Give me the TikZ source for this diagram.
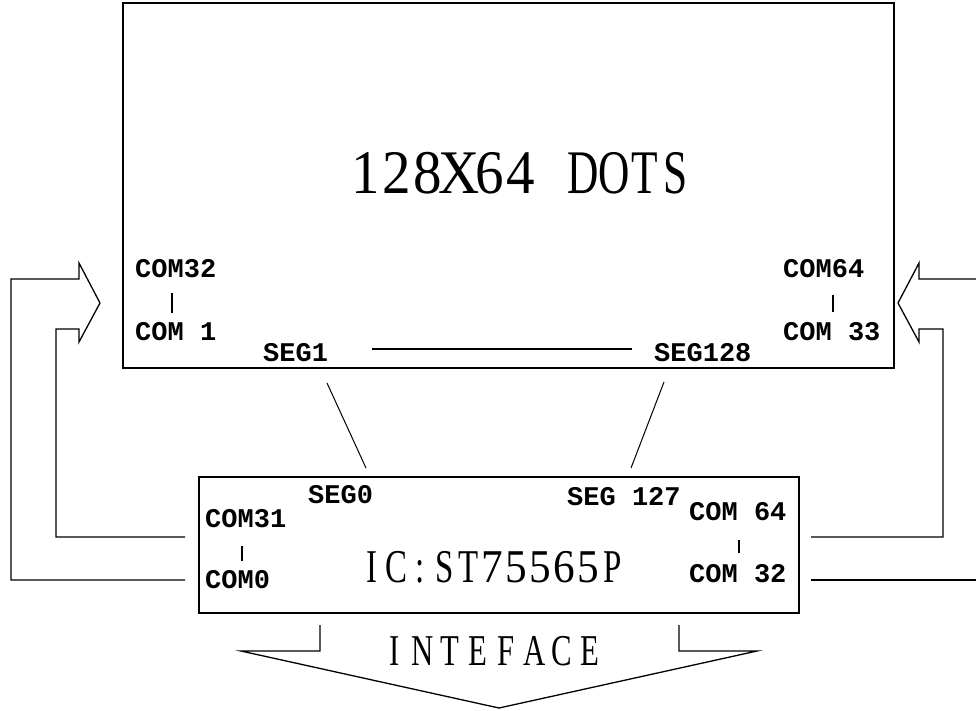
\documentclass[tikz,border=0pt]{standalone}
\usepackage{fontspec}
\newfontfamily\serdig[FakeStretch=0.92]{Liberation Serif}
\newfontfamily\serlet[FakeStretch=0.7]{Liberation Serif}
\newfontfamily\lblfont{Liberation Mono}
\newlength\cellw
\newcommand\cc[1]{\makebox[\cellw][c]{\serlet #1}}
\newcommand\cd[1]{\makebox[\cellw][c]{\serdig #1}}
\begin{document}
\begin{tikzpicture}[x=1pt,y=-1pt,
  box/.style={draw, line width=1.8pt, inner sep=0pt, outer sep=0pt, anchor=north west},
  lbl/.style={anchor=base west, inner sep=0pt, font=\lblfont\bfseries\fontsize{27}{27}\selectfont},
  title/.style={anchor=base west, inner sep=0pt},
  conn/.style={line width=1.3pt},
  thin/.style={line width=1pt},
  bar/.style={line width=1.3pt}]
\useasboundingbox (0,0) rectangle (976,710);
% boxes
\node[box, minimum width=771pt, minimum height=365pt] (lcd) at (123,3) {};
\node[box, minimum width=600pt, minimum height=136pt] (ic) at (199,477) {};
% main texts
\node[title, font=\fontsize{62}{62}\selectfont] (dots) at (350,193)
  {\setlength\cellw{31pt}\cd{1}\cd{2}\cd{8}\cd{X}\cd{6}\cd{4}\cc{}\cc{D}\cc{O}\cc{T}\cc{S}};
\node[title, font=\fontsize{47}{47}\selectfont] (icname) at (360,582)
  {\setlength\cellw{24pt}\cc{I}\cc{C}\cc{:}\cc{S}\cc{T}\cd{7}\cd{5}\cd{5}\cd{6}\cd{5}\cc{P}};
\node[title, font=\fontsize{44}{44}\selectfont] (intf) at (380,665)
  {\setlength\cellw{28pt}\cc{I}\cc{N}\cc{T}\cc{E}\cc{F}\cc{A}\cc{C}\cc{E}};
% LCD labels
\node[lbl] (c32) at (135,277) {COM32};
\node[lbl] (c1) at (135,340) {COM 1};
\node[lbl] (c64) at (783,277) {COM64};
\node[lbl] (c33) at (783,340) {COM 33};
\node[lbl] (s1) at (263,361) {SEG1};
\node[lbl] (s128) at (654,361) {SEG128};
\draw[bar] (172,293) -- (172,313);
\draw[bar] (833,295) -- (833,312);
\coordinate (sl) at (372,349);
\coordinate (sr) at (632,349);
\draw[conn] (sl) -- (sr);
% IC labels
\node[lbl] (s0) at (308,503) {SEG0};
\node[lbl] (s127) at (567,505) {SEG 127};
\node[lbl] (i31) at (205,527) {COM31};
\node[lbl] (i0) at (205,588) {COM0};
\node[lbl] (i64) at (689,520) {COM 64};
\node[lbl] (i32) at (689,582) {COM 32};
\draw[bar] (242,546) -- (242,561);
\draw[bar] (739,540) -- (739,553);
% SEG connections
\coordinate (a1) at (327,383); \coordinate (a2) at (366,468);
\coordinate (b1) at (664,382); \coordinate (b2) at (631,468);
\draw[thin] (a1) -- (a2);
\draw[thin] (b1) -- (b2);
% left COM arrow
\draw[conn] (185,580) -- (11,580) -- (11,279) -- (79,279) -- (79,263) -- (100,303)
  -- (79,342) -- (79,329) -- (56,329) -- (56,537) -- (185,537);
% right COM arrow
\draw[conn] (811,580) -- (976,580);
\draw[conn] (976,279) -- (919,279) -- (919,263) -- (898,303) -- (919,342) -- (919,329)
  -- (943,329) -- (943,537) -- (811,537);
% interface arrow
\draw[conn] (320,625) -- (320,651) -- (241,651) -- (499,708) -- (757,651) -- (679,651) -- (679,625);
\end{tikzpicture}
\end{document}
